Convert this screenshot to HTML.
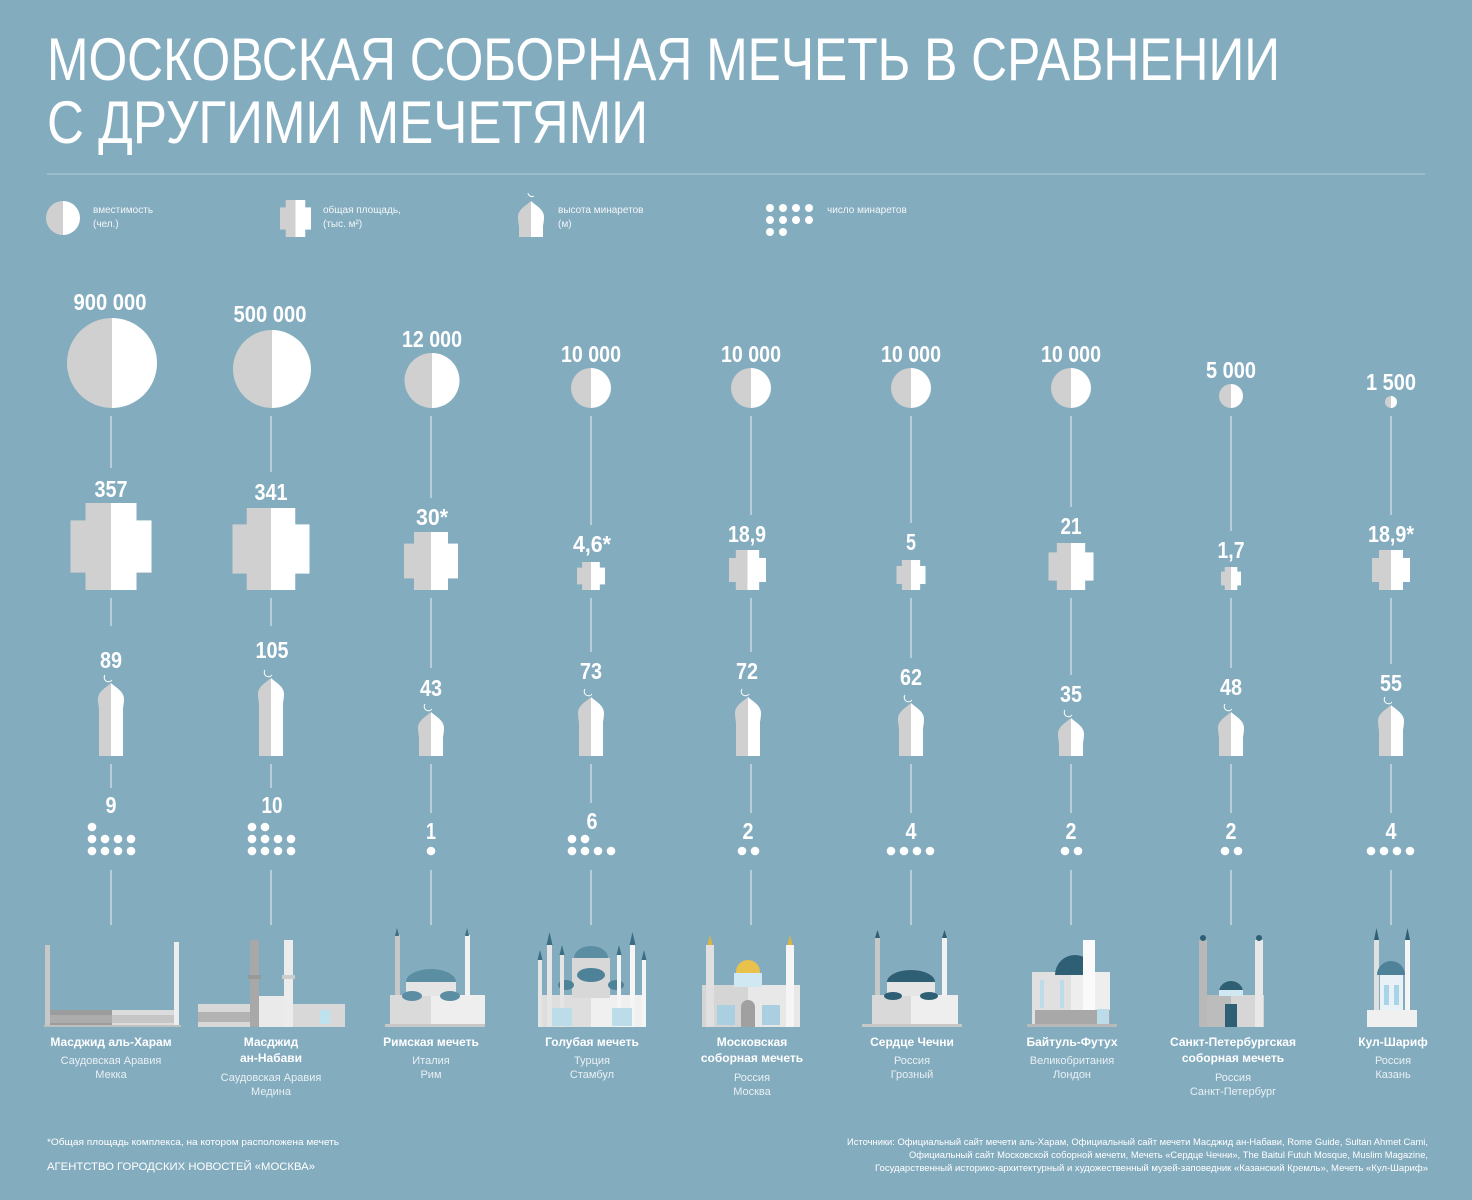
<!DOCTYPE html>
<html><head><meta charset="utf-8"><style>
html,body{margin:0;padding:0;background:#84acbf;}
svg{display:block;}
text{font-family:"Liberation Sans","DejaVu Sans",sans-serif;fill:#fff;}
.n{font-family:"Liberation Sans Narrow","Liberation Sans",sans-serif;font-weight:bold;font-size:23px;text-anchor:middle;}
.nm{font-weight:bold;font-size:12px;text-anchor:middle;}
.sb{font-size:11px;text-anchor:middle;fill:#e9f0f4;}
.lg{font-size:10px;fill:#f2f6f8;}
.ln{stroke:#c9d9e1;stroke-width:1.5;}
</style></head><body>
<svg width="1472" height="1200" viewBox="0 0 1472 1200" xmlns="http://www.w3.org/2000/svg">
<defs>
<symbol id="cr" viewBox="0 0 100 100" preserveAspectRatio="none">
<rect x="18.5" y="0" width="31.5" height="100" fill="#d0d0d0"/><rect x="0" y="20" width="50" height="60" fill="#d0d0d0"/>
<rect x="50" y="0" width="31.5" height="100" fill="#fff"/><rect x="50" y="20" width="50" height="60" fill="#fff"/>
</symbol>
<symbol id="dm" viewBox="0 0 26 26">
<path d="M13,0 C9,4 0,8 0,16 C0,21 1,24 1,26 L13,26 Z" fill="#d0d0d0"/>
<path d="M13,0 C17,4 26,8 26,16 C26,21 25,24 25,26 L13,26 Z" fill="#fff"/>
</symbol>
</defs>
<rect width="1472" height="1200" fill="#84acbf"/>
<text x="47" y="80" font-size="60" textLength="1233" lengthAdjust="spacingAndGlyphs">МОСКОВСКАЯ СОБОРНАЯ МЕЧЕТЬ В СРАВНЕНИИ</text>
<text x="47" y="143" font-size="60" textLength="601" lengthAdjust="spacingAndGlyphs">С ДРУГИМИ МЕЧЕТЯМИ</text>
<line x1="47" y1="174" x2="1425" y2="174" stroke="#b3cbd7" stroke-width="1"/>

<!-- legend -->
<path d="M63,201 A17,17 0 0 0 63,235 Z" fill="#d0d0d0"/><path d="M63,201 A17,17 0 0 1 63,235 Z" fill="#fff"/>
<text class="lg" x="93" y="213">вместимость</text><text class="lg" x="93" y="227">(чел.)</text>
<use href="#cr" x="280" y="200" width="31" height="37"/>
<text class="lg" x="323" y="213">общая площадь,</text><text class="lg" x="323" y="227">(тыс. м²)</text>
<use href="#dm" x="518" y="201" width="26" height="26"/>
<rect x="519" y="226" width="12" height="11" fill="#d0d0d0"/><rect x="531" y="226" width="12" height="11" fill="#fff"/>
<path d="M528,193 a4,4 0 0 0 6,3" stroke="#fff" fill="none" stroke-width="1"/>
<text class="lg" x="558" y="213">высота минаретов</text><text class="lg" x="558" y="227">(м)</text>
<g fill="#fff"><circle cx="770" cy="208" r="4"/><circle cx="783" cy="208" r="4"/><circle cx="796" cy="208" r="4"/><circle cx="809" cy="208" r="4"/>
<circle cx="770" cy="220" r="4"/><circle cx="783" cy="220" r="4"/><circle cx="796" cy="220" r="4"/><circle cx="809" cy="220" r="4"/>
<circle cx="770" cy="232" r="4"/><circle cx="783" cy="232" r="4"/></g>
<text class="lg" x="827" y="213">число минаретов</text>

<!-- connector lines -->
<g class="ln">
<line x1="111" y1="416" x2="111" y2="468"/><line x1="111" y1="598" x2="111" y2="626"/><line x1="111" y1="764" x2="111" y2="788"/><line x1="111" y1="870" x2="111" y2="925"/>
<line x1="271" y1="416" x2="271" y2="472"/><line x1="271" y1="598" x2="271" y2="626"/><line x1="271" y1="764" x2="271" y2="788"/><line x1="271" y1="870" x2="271" y2="925"/>
<line x1="431" y1="416" x2="431" y2="498"/><line x1="431" y1="598" x2="431" y2="668"/><line x1="431" y1="764" x2="431" y2="813"/><line x1="431" y1="870" x2="431" y2="925"/>
<line x1="591" y1="416" x2="591" y2="525"/><line x1="591" y1="598" x2="591" y2="652"/><line x1="591" y1="764" x2="591" y2="803"/><line x1="591" y1="870" x2="591" y2="925"/>
<line x1="751" y1="416" x2="751" y2="515"/><line x1="751" y1="598" x2="751" y2="652"/><line x1="751" y1="764" x2="751" y2="813"/><line x1="751" y1="870" x2="751" y2="925"/>
<line x1="911" y1="416" x2="911" y2="523"/><line x1="911" y1="598" x2="911" y2="658"/><line x1="911" y1="764" x2="911" y2="813"/><line x1="911" y1="870" x2="911" y2="925"/>
<line x1="1071" y1="416" x2="1071" y2="507"/><line x1="1071" y1="598" x2="1071" y2="675"/><line x1="1071" y1="764" x2="1071" y2="813"/><line x1="1071" y1="870" x2="1071" y2="925"/>
<line x1="1231" y1="416" x2="1231" y2="531"/><line x1="1231" y1="598" x2="1231" y2="668"/><line x1="1231" y1="764" x2="1231" y2="813"/><line x1="1231" y1="870" x2="1231" y2="925"/>
<line x1="1391" y1="416" x2="1391" y2="515"/><line x1="1391" y1="598" x2="1391" y2="664"/><line x1="1391" y1="764" x2="1391" y2="813"/><line x1="1391" y1="870" x2="1391" y2="925"/>
</g>

<!-- circles -->
<g>
<path d="M112,318 A45,45 0 0 0 112,408 Z" fill="#d0d0d0"/><path d="M112,318 A45,45 0 0 1 112,408 Z" fill="#fff"/>
<path d="M272,330 A39,39 0 0 0 272,408 Z" fill="#d0d0d0"/><path d="M272,330 A39,39 0 0 1 272,408 Z" fill="#fff"/>
<path d="M432,353 A27.5,27.5 0 0 0 432,408 Z" fill="#d0d0d0"/><path d="M432,353 A27.5,27.5 0 0 1 432,408 Z" fill="#fff"/>
<path d="M591,368 A20,20 0 0 0 591,408 Z" fill="#d0d0d0"/><path d="M591,368 A20,20 0 0 1 591,408 Z" fill="#fff"/>
<path d="M751,368 A20,20 0 0 0 751,408 Z" fill="#d0d0d0"/><path d="M751,368 A20,20 0 0 1 751,408 Z" fill="#fff"/>
<path d="M911,368 A20,20 0 0 0 911,408 Z" fill="#d0d0d0"/><path d="M911,368 A20,20 0 0 1 911,408 Z" fill="#fff"/>
<path d="M1071,368 A20,20 0 0 0 1071,408 Z" fill="#d0d0d0"/><path d="M1071,368 A20,20 0 0 1 1071,408 Z" fill="#fff"/>
<path d="M1231,384 A12,12 0 0 0 1231,408 Z" fill="#d0d0d0"/><path d="M1231,384 A12,12 0 0 1 1231,408 Z" fill="#fff"/>
<path d="M1391,396 A6,6 0 0 0 1391,408 Z" fill="#d0d0d0"/><path d="M1391,396 A6,6 0 0 1 1391,408 Z" fill="#fff"/>
</g>
<text class="n" x="110" y="310" textLength="73" lengthAdjust="spacingAndGlyphs">900 000</text>
<text class="n" x="270" y="322" textLength="73" lengthAdjust="spacingAndGlyphs">500 000</text>
<text class="n" x="432" y="347" textLength="60" lengthAdjust="spacingAndGlyphs">12 000</text>
<text class="n" x="591" y="362" textLength="60" lengthAdjust="spacingAndGlyphs">10 000</text>
<text class="n" x="751" y="362" textLength="60" lengthAdjust="spacingAndGlyphs">10 000</text>
<text class="n" x="911" y="362" textLength="60" lengthAdjust="spacingAndGlyphs">10 000</text>
<text class="n" x="1071" y="362" textLength="60" lengthAdjust="spacingAndGlyphs">10 000</text>
<text class="n" x="1231" y="378" textLength="50" lengthAdjust="spacingAndGlyphs">5 000</text>
<text class="n" x="1391" y="390" textLength="50" lengthAdjust="spacingAndGlyphs">1 500</text>

<!-- crosses -->
<use href="#cr" x="70.5" y="503" width="81" height="87"/>
<use href="#cr" x="232.5" y="508" width="77" height="82"/>
<use href="#cr" x="404" y="532" width="54" height="58"/>
<use href="#cr" x="577" y="562" width="28" height="28"/>
<use href="#cr" x="729" y="550" width="37" height="40"/>
<use href="#cr" x="896.5" y="560" width="29" height="30"/>
<use href="#cr" x="1048.5" y="543" width="45" height="47"/>
<use href="#cr" x="1221" y="567" width="20" height="23"/>
<use href="#cr" x="1372" y="550" width="38" height="40"/>
<text class="n" x="111" y="497" textLength="33" lengthAdjust="spacingAndGlyphs">357</text>
<text class="n" x="271" y="500" textLength="33" lengthAdjust="spacingAndGlyphs">341</text>
<text class="n" x="432" y="525" textLength="32" lengthAdjust="spacingAndGlyphs">30*</text>
<text class="n" x="592" y="552" textLength="38" lengthAdjust="spacingAndGlyphs">4,6*</text>
<text class="n" x="747" y="542" textLength="38" lengthAdjust="spacingAndGlyphs">18,9</text>
<text class="n" x="911" y="550" textLength="10" lengthAdjust="spacingAndGlyphs">5</text>
<text class="n" x="1071" y="534" textLength="21" lengthAdjust="spacingAndGlyphs">21</text>
<text class="n" x="1231" y="558" textLength="27" lengthAdjust="spacingAndGlyphs">1,7</text>
<text class="n" x="1391" y="542" textLength="46" lengthAdjust="spacingAndGlyphs">18,9*</text>

<!-- minarets -->
<g>
<use href="#dm" x="98" y="683" width="26" height="26"/><rect x="99" y="708" width="12" height="48" fill="#d0d0d0"/><rect x="111" y="708" width="12" height="48" fill="#fff"/>
<use href="#dm" x="258" y="678" width="26" height="26"/><rect x="259" y="703" width="12" height="53" fill="#d0d0d0"/><rect x="271" y="703" width="12" height="53" fill="#fff"/>
<use href="#dm" x="418" y="712" width="26" height="26"/><rect x="419" y="737" width="12" height="19" fill="#d0d0d0"/><rect x="431" y="737" width="12" height="19" fill="#fff"/>
<use href="#dm" x="578" y="697" width="26" height="26"/><rect x="579" y="722" width="12" height="34" fill="#d0d0d0"/><rect x="591" y="722" width="12" height="34" fill="#fff"/>
<use href="#dm" x="735" y="697" width="26" height="26"/><rect x="736" y="722" width="12" height="34" fill="#d0d0d0"/><rect x="748" y="722" width="12" height="34" fill="#fff"/>
<use href="#dm" x="898" y="703" width="26" height="26"/><rect x="899" y="728" width="12" height="28" fill="#d0d0d0"/><rect x="911" y="728" width="12" height="28" fill="#fff"/>
<use href="#dm" x="1058" y="718" width="26" height="26"/><rect x="1059" y="743" width="12" height="13" fill="#d0d0d0"/><rect x="1071" y="743" width="12" height="13" fill="#fff"/>
<use href="#dm" x="1218" y="712" width="26" height="26"/><rect x="1219" y="737" width="12" height="19" fill="#d0d0d0"/><rect x="1231" y="737" width="12" height="19" fill="#fff"/>
<use href="#dm" x="1378" y="705" width="26" height="26"/><rect x="1379" y="730" width="12" height="26" fill="#d0d0d0"/><rect x="1391" y="730" width="12" height="26" fill="#fff"/>
</g>
<g stroke="#fff" fill="none" stroke-width="1">
<path d="M105,675 a4,4 0 0 0 7,5"/><path d="M265,670 a4,4 0 0 0 7,5"/><path d="M425,704 a4,4 0 0 0 7,5"/>
<path d="M585,689 a4,4 0 0 0 7,5"/><path d="M742,689 a4,4 0 0 0 7,5"/><path d="M905,695 a4,4 0 0 0 7,5"/>
<path d="M1065,710 a4,4 0 0 0 7,5"/><path d="M1225,704 a4,4 0 0 0 7,5"/><path d="M1385,697 a4,4 0 0 0 7,5"/>
</g>
<text class="n" x="111" y="668" textLength="22" lengthAdjust="spacingAndGlyphs">89</text>
<text class="n" x="272" y="658" textLength="33" lengthAdjust="spacingAndGlyphs">105</text>
<text class="n" x="431" y="696" textLength="22" lengthAdjust="spacingAndGlyphs">43</text>
<text class="n" x="591" y="679" textLength="22" lengthAdjust="spacingAndGlyphs">73</text>
<text class="n" x="747" y="679" textLength="22" lengthAdjust="spacingAndGlyphs">72</text>
<text class="n" x="911" y="685" textLength="22" lengthAdjust="spacingAndGlyphs">62</text>
<text class="n" x="1071" y="702" textLength="22" lengthAdjust="spacingAndGlyphs">35</text>
<text class="n" x="1231" y="695" textLength="22" lengthAdjust="spacingAndGlyphs">48</text>
<text class="n" x="1391" y="691" textLength="22" lengthAdjust="spacingAndGlyphs">55</text>

<!-- dots -->
<g fill="#fff">
<circle cx="92" cy="827" r="4.3"/>
<circle cx="92" cy="839" r="4.3"/><circle cx="105" cy="839" r="4.3"/><circle cx="118" cy="839" r="4.3"/><circle cx="131" cy="839" r="4.3"/>
<circle cx="92" cy="851" r="4.3"/><circle cx="105" cy="851" r="4.3"/><circle cx="118" cy="851" r="4.3"/><circle cx="131" cy="851" r="4.3"/>
<circle cx="252" cy="827" r="4.3"/><circle cx="265" cy="827" r="4.3"/>
<circle cx="252" cy="839" r="4.3"/><circle cx="265" cy="839" r="4.3"/><circle cx="278" cy="839" r="4.3"/><circle cx="291" cy="839" r="4.3"/>
<circle cx="252" cy="851" r="4.3"/><circle cx="265" cy="851" r="4.3"/><circle cx="278" cy="851" r="4.3"/><circle cx="291" cy="851" r="4.3"/>
<circle cx="431" cy="851" r="4.3"/>
<circle cx="572" cy="839" r="4.3"/><circle cx="585" cy="839" r="4.3"/>
<circle cx="572" cy="851" r="4.3"/><circle cx="585" cy="851" r="4.3"/><circle cx="598" cy="851" r="4.3"/><circle cx="611" cy="851" r="4.3"/>
<circle cx="742" cy="851" r="4.3"/><circle cx="755" cy="851" r="4.3"/>
<circle cx="891" cy="851" r="4.3"/><circle cx="904" cy="851" r="4.3"/><circle cx="917" cy="851" r="4.3"/><circle cx="930" cy="851" r="4.3"/>
<circle cx="1065" cy="851" r="4.3"/><circle cx="1078" cy="851" r="4.3"/>
<circle cx="1225" cy="851" r="4.3"/><circle cx="1238" cy="851" r="4.3"/>
<circle cx="1371" cy="851" r="4.3"/><circle cx="1384" cy="851" r="4.3"/><circle cx="1397" cy="851" r="4.3"/><circle cx="1410" cy="851" r="4.3"/>
</g>
<text class="n" x="111" y="813" textLength="11" lengthAdjust="spacingAndGlyphs">9</text>
<text class="n" x="272" y="813" textLength="21" lengthAdjust="spacingAndGlyphs">10</text>
<text class="n" x="431" y="839" textLength="10" lengthAdjust="spacingAndGlyphs">1</text>
<text class="n" x="592" y="829" textLength="11" lengthAdjust="spacingAndGlyphs">6</text>
<text class="n" x="748" y="839" textLength="11" lengthAdjust="spacingAndGlyphs">2</text>
<text class="n" x="911" y="839" textLength="11" lengthAdjust="spacingAndGlyphs">4</text>
<text class="n" x="1071" y="839" textLength="11" lengthAdjust="spacingAndGlyphs">2</text>
<text class="n" x="1231" y="839" textLength="11" lengthAdjust="spacingAndGlyphs">2</text>
<text class="n" x="1391" y="839" textLength="11" lengthAdjust="spacingAndGlyphs">4</text>

<!-- mosque illustrations -->
<!-- 1 -->
<g>
<rect x="45" y="945" width="5" height="82" fill="#c8c8c8"/><rect x="174" y="942" width="5" height="85" fill="#eee"/>
<rect x="50" y="1010" width="62" height="17" fill="#9c9c9c"/><rect x="112" y="1010" width="62" height="17" fill="#dcdcdc"/>
<rect x="50" y="1015" width="124" height="8" fill="#b8b8b8" opacity=".6"/>
<rect x="44" y="1025" width="137" height="2" fill="#c0c0c0"/>
</g>
<!-- 2 -->
<g>
<rect x="198" y="1004" width="147" height="23" fill="#d8d8d8"/><rect x="198" y="1012" width="73" height="10" fill="#b3b3b3"/>
<rect x="255" y="996" width="36" height="31" fill="#eaeaea"/>
<rect x="250" y="940" width="9" height="87" fill="#a8a8a8"/><rect x="284" y="940" width="9" height="87" fill="#ececec"/>
<rect x="248" y="975" width="13" height="4" fill="#999"/><rect x="282" y="975" width="13" height="4" fill="#ccc"/>
<rect x="320" y="1010" width="10" height="14" fill="#bfe2ef"/>
</g>
<!-- 3 -->
<g>
<rect x="395" y="935" width="5" height="92" fill="#c8c8c8"/><rect x="465" y="935" width="5" height="92" fill="#f2f2f2"/>
<path d="M397,928 l2,8 h-4z M467,928 l2,8 h-4z" fill="#3c6e84"/>
<rect x="390" y="995" width="95" height="32" fill="#eeeeee"/><rect x="390" y="995" width="41" height="32" fill="#dadada"/>
<ellipse cx="431" cy="982" rx="25" ry="13" fill="#5b8ea3"/><rect x="406" y="982" width="50" height="14" fill="#e5e5e5"/>
<ellipse cx="412" cy="996" rx="10" ry="5" fill="#5b8ea3"/><ellipse cx="450" cy="996" rx="10" ry="5" fill="#5b8ea3"/>
<rect x="385" y="1024" width="100" height="3" fill="#c8c8c8"/>
</g>
<!-- 4 -->
<g>
<rect x="540" y="995" width="106" height="32" fill="#f0f0f0"/><rect x="540" y="995" width="51" height="32" fill="#dedede"/>
<ellipse cx="591" cy="958" rx="17" ry="12" fill="#5b8ea3"/><rect x="572" y="958" width="38" height="40" fill="#d8d8d8"/>
<ellipse cx="591" cy="975" rx="14" ry="7" fill="#4e8299"/><ellipse cx="566" cy="985" rx="8" ry="5" fill="#4e8299"/><ellipse cx="616" cy="985" rx="8" ry="5" fill="#4e8299"/>
<rect x="547" y="945" width="5" height="82" fill="#e5e5e5"/><rect x="560" y="955" width="4" height="72" fill="#e5e5e5"/>
<rect x="617" y="955" width="4" height="72" fill="#f5f5f5"/><rect x="630" y="945" width="5" height="82" fill="#f5f5f5"/>
<rect x="538" y="960" width="4" height="67" fill="#e5e5e5"/><rect x="642" y="960" width="4" height="67" fill="#f5f5f5"/>
<path d="M549.5,932 l3,13 h-6z M562,945 l2.5,10 h-5z M619,945 l2.5,10 h-5z M632.5,932 l3,13 h-6z M540,950 l2.5,10h-5z M644,950 l2.5,10h-5z" fill="#3c6e84"/>
<rect x="552" y="1008" width="20" height="18" fill="#bcdcea"/><rect x="612" y="1008" width="20" height="18" fill="#bcdcea"/>
</g>
<!-- 5 -->
<g>
<rect x="702" y="985" width="98" height="42" fill="#e8e8e8"/><rect x="702" y="985" width="46" height="42" fill="#d5d5d5"/>
<circle cx="748" cy="972" r="12" fill="#e9c24c"/><rect x="734" y="973" width="28" height="14" fill="#cfe8f2"/>
<rect x="706" y="945" width="8" height="82" fill="#e0e0e0"/><rect x="786" y="945" width="8" height="82" fill="#f5f5f5"/>
<path d="M710,935 l2.5,10 h-5z M790,935 l2.5,10 h-5z" fill="#e0b43c"/>
<rect x="717" y="1005" width="18" height="20" fill="#a9cfe0"/><rect x="762" y="1005" width="18" height="20" fill="#a9cfe0"/>
<path d="M741,1027 v-20 a7,7 0 0 1 14,0 v20z" fill="#a0a0a0"/>
</g>
<!-- 6 -->
<g>
<rect x="875" y="938" width="5" height="89" fill="#c8c8c8"/><rect x="942" y="938" width="5" height="89" fill="#f2f2f2"/>
<path d="M877.5,930 l2.5,8 h-5z M944.5,930 l2.5,8 h-5z" fill="#2f5f75"/>
<rect x="872" y="995" width="86" height="32" fill="#eeeeee"/><rect x="872" y="995" width="39" height="32" fill="#d9d9d9"/>
<ellipse cx="911" cy="982" rx="24" ry="12" fill="#2f5f75"/><rect x="887" y="982" width="48" height="14" fill="#e5e5e5"/>
<ellipse cx="893" cy="996" rx="9" ry="4" fill="#2f5f75"/><ellipse cx="929" cy="996" rx="9" ry="4" fill="#2f5f75"/>
<rect x="862" y="1024" width="100" height="3" fill="#c8c8c8"/>
</g>
<!-- 7 -->
<g>
<rect x="1032" y="972" width="78" height="55" fill="#eeeeee"/><rect x="1032" y="972" width="39" height="55" fill="#e0e0e0"/>
<path d="M1055,975 a20,20 0 0 1 40,0z" fill="#2f5f75"/>
<rect x="1083" y="940" width="12" height="87" fill="#fafafa"/>
<rect x="1035" y="1010" width="75" height="17" fill="#a8a8a8"/>
<rect x="1040" y="980" width="4" height="28" fill="#bcdcea"/><rect x="1060" y="980" width="4" height="28" fill="#bcdcea"/>
<rect x="1097" y="1009" width="12" height="18" fill="#bcdcea"/>
<rect x="1027" y="1024" width="90" height="3" fill="#b8b8b8"/>
</g>
<!-- 8 -->
<g>
<rect x="1200" y="995" width="64" height="32" fill="#bcbcbc"/><rect x="1231" y="995" width="33" height="32" fill="#d6d6d6"/>
<path d="M1219,992 a12,11 0 0 1 24,0z" fill="#2f5f75"/><rect x="1219" y="990" width="24" height="6" fill="#d0e8f2"/>
<rect x="1199" y="940" width="8" height="87" fill="#b8b8b8"/><rect x="1255" y="940" width="8" height="87" fill="#e8e8e8"/>
<circle cx="1203" cy="938" r="3" fill="#2f5f75"/><circle cx="1259" cy="938" r="3" fill="#2f5f75"/>
<rect x="1225" y="1004" width="12" height="23" fill="#2f5f75"/>
</g>
<!-- 9 -->
<g>
<rect x="1374" y="940" width="5" height="87" fill="#e0e0e0"/><rect x="1405" y="940" width="5" height="87" fill="#f5f5f5"/>
<path d="M1376.5,928 l2.5,12 h-5z M1407.5,928 l2.5,12 h-5z" fill="#2f5f75"/>
<path d="M1377,975 a14,14 0 0 1 28,0z" fill="#4e8299"/>
<rect x="1380" y="975" width="23" height="35" fill="#e8f2f6"/><rect x="1384" y="985" width="5" height="20" fill="#a9d3e6"/><rect x="1394" y="985" width="5" height="20" fill="#a9d3e6"/>
<rect x="1367" y="1010" width="50" height="17" fill="#f0f0f0"/>
</g>

<!-- names -->
<text class="nm" x="111" y="1046">Масджид аль-Харам</text><text class="sb" x="111" y="1064">Саудовская Аравия</text><text class="sb" x="111" y="1078">Мекка</text>
<text class="nm" x="271" y="1046">Масджид</text><text class="nm" x="271" y="1062">ан-Набави</text><text class="sb" x="271" y="1081">Саудовская Аравия</text><text class="sb" x="271" y="1095">Медина</text>
<text class="nm" x="431" y="1046">Римская мечеть</text><text class="sb" x="431" y="1064">Италия</text><text class="sb" x="431" y="1078">Рим</text>
<text class="nm" x="592" y="1046">Голубая мечеть</text><text class="sb" x="592" y="1064">Турция</text><text class="sb" x="592" y="1078">Стамбул</text>
<text class="nm" x="752" y="1046">Московская</text><text class="nm" x="752" y="1062">соборная мечеть</text><text class="sb" x="752" y="1081">Россия</text><text class="sb" x="752" y="1095">Москва</text>
<text class="nm" x="912" y="1046">Сердце Чечни</text><text class="sb" x="912" y="1064">Россия</text><text class="sb" x="912" y="1078">Грозный</text>
<text class="nm" x="1072" y="1046">Байтуль-Футух</text><text class="sb" x="1072" y="1064">Великобритания</text><text class="sb" x="1072" y="1078">Лондон</text>
<text class="nm" x="1233" y="1046">Санкт-Петербургская</text><text class="nm" x="1233" y="1062">соборная мечеть</text><text class="sb" x="1233" y="1081">Россия</text><text class="sb" x="1233" y="1095">Санкт-Петербург</text>
<text class="nm" x="1393" y="1046">Кул-Шариф</text><text class="sb" x="1393" y="1064">Россия</text><text class="sb" x="1393" y="1078">Казань</text>

<!-- footer -->
<text x="47" y="1145" font-size="9.5" fill="#eef3f6" textLength="292" lengthAdjust="spacingAndGlyphs">*Общая площадь комплекса, на котором расположена мечеть</text>
<text x="47" y="1170" font-size="11" fill="#eef3f6" textLength="268" lengthAdjust="spacingAndGlyphs">АГЕНТСТВО ГОРОДСКИХ НОВОСТЕЙ «МОСКВА»</text>
<g font-size="9.5" text-anchor="end">
<text x="1428" y="1145" textLength="581" lengthAdjust="spacingAndGlyphs">Источники: Официальный сайт мечети аль-Харам, Официальный сайт мечети Масджид ан-Набави,  Rome Guide, Sultan Ahmet Cami,</text>
<text x="1428" y="1158" textLength="519" lengthAdjust="spacingAndGlyphs">Официальный сайт Московской соборной мечети, Мечеть «Сердце Чечни», The Baitul Futuh Mosque, Muslim Magazine,</text>
<text x="1428" y="1171" textLength="553" lengthAdjust="spacingAndGlyphs">Государственный историко-архитектурный и художественный музей-заповедник «Казанский Кремль», Мечеть «Кул-Шариф»</text>
</g>
</svg>
</body></html>
